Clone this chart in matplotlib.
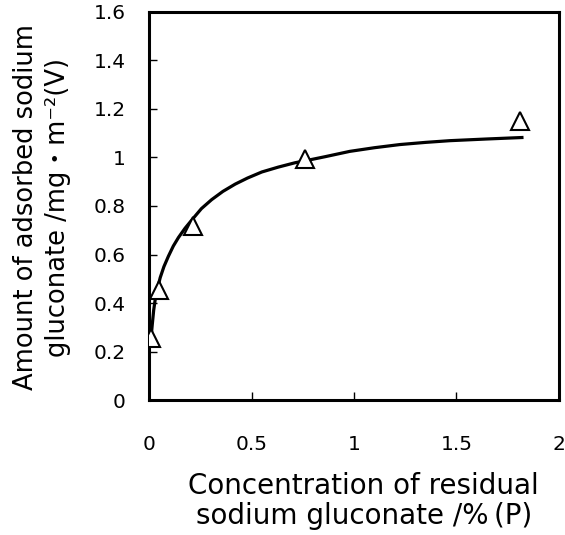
import matplotlib.pyplot as plt

plt.rcParams['font.family'] = ['DejaVu Sans', 'Noto Sans CJK JP']

# measured points (triangles)
conc = [0.01, 0.05, 0.215, 0.76, 1.81]
adsorbed = [0.255, 0.455, 0.718, 0.994, 1.148]

# fitted curve
curve_x = [0.008, 0.015, 0.022, 0.029, 0.04, 0.054, 0.072, 0.094, 0.118, 0.143,
           0.175, 0.208, 0.255, 0.305, 0.36, 0.42, 0.48, 0.55, 0.63, 0.712,
           0.79, 0.859, 0.98, 1.1, 1.224, 1.35, 1.468, 1.65, 1.82]
curve_y = [0.245, 0.31, 0.37, 0.412, 0.458, 0.505, 0.55, 0.593, 0.635, 0.67,
           0.708, 0.742, 0.789, 0.826, 0.86, 0.89, 0.915, 0.94, 0.96, 0.978,
           0.991, 1.003, 1.025, 1.04, 1.053, 1.062, 1.069, 1.076, 1.082]

fig = plt.figure(figsize=(5.65, 5.35), dpi=100)
ax = fig.add_axes([0.264, 0.252, 0.725, 0.726])

ax.plot(curve_x, curve_y, color='black', lw=2.3, zorder=2)
ax.plot(conc, adsorbed, linestyle='none', marker='^', markersize=12.5,
        markerfacecolor='white', markeredgecolor='black', markeredgewidth=1.5,
        zorder=3)

ax.set_xlim(0, 2)
ax.set_ylim(0, 1.6)
ax.set_xticks([0, 0.5, 1, 1.5, 2])
ax.set_xticklabels(['0', '0.5', '1', '1.5', '2'])
ax.set_yticks([0, 0.2, 0.4, 0.6, 0.8, 1, 1.2, 1.4, 1.6])
ax.set_yticklabels(['0', '0.2', '0.4', '0.6', '0.8', '1', '1.2', '1.4', '1.6'])

for s in ax.spines.values():
    s.set_linewidth(2.2)
ax.tick_params(axis='both', direction='in', labelsize=14.5, width=1, length=6)
ax.tick_params(axis='x', pad=25)
ax.tick_params(axis='y', pad=17)

ax.set_xlabel('Concentration of residual\nsodium gluconate /%\u2009(P)', fontsize=20,
              linespacing=1.1)
ax.xaxis.set_label_coords(0.524, -0.185)
ax.set_ylabel('Amount of adsorbed sodium\ngluconate /mg・m⁻²(V)', fontsize=18.5,
              linespacing=1.3)
ax.yaxis.set_label_coords(-0.19, 0.497)

fig.savefig('out.png', dpi=100)
